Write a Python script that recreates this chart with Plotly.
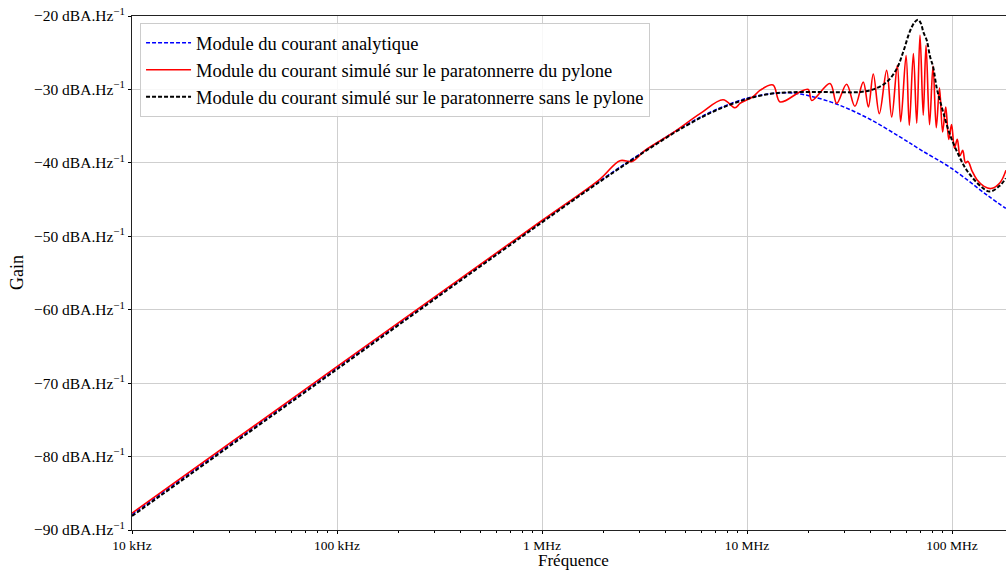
import plotly.graph_objects as go

# Frequencies in MHz, gains in dB
freq_analytique = [0.01, 0.1, 1, 2, 3, 5, 7, 10, 13, 16, 20, 28, 40, 56, 70, 100, 150, 183]
gain_analytique = [-87.9, -67.9, -47.95, -42.1, -38.8, -34.9, -32.8, -31.2, -30.6, -30.45,
                   -30.85, -32.1, -34.1, -36.5, -38.2, -40.8, -44.5, -46.2]

freq_pylone = [0.01, 0.1, 1, 1.92, 2.40, 2.75, 3.18, 4.3, 5.9, 7.64, 8.74, 9.25, 10.7, 11.6,
               13.4, 14.5, 18.1, 19.9, 20.7, 25.4, 27.4, 30.6, 33.6, 36.9, 39.1, 41.3, 44.2,
               48.0, 50.8, 54.1, 56.2, 59.7, 61.9, 64.8, 67.3, 69.8, 72.4, 74.7, 77.7, 80.8,
               83.8, 86.9, 90.0, 93.2, 96.4, 99.5, 102.8, 106.1, 109.4, 112.8, 116.3, 119.7,
               125.2, 132.4, 143.3, 155.0, 171.4, 183.4]
gain_pylone = [-87.7, -67.75, -47.85, -42.2, -39.7, -39.8, -38.3, -36.0, -33.3, -31.4, -32.5,
               -31.9, -31.0, -30.1, -29.4, -31.7, -30.35, -30.0, -31.5, -29.2, -31.9, -29.3,
               -32.3, -29.0, -32.4, -27.9, -33.3, -27.4, -33.75, -26.7, -34.4, -25.4, -34.9,
               -25.1, -34.6, -22.6, -33.5, -24.0, -34.8, -26.8, -35.2, -29.8, -35.8, -32.4,
               -36.8, -34.8, -38.0, -36.8, -39.0, -38.3, -40.0, -39.8, -41.1, -42.3, -43.2,
               -43.5, -42.7, -41.0]

freq_sans = [0.01, 0.1, 1, 2, 3, 5, 7, 10, 13, 16, 22, 30, 35.6, 41.3, 48.0, 53.7, 57.8, 62.1,
             65.5, 68.2, 70.5, 72.5, 75.3, 78.1, 81.0, 84.2, 87.5, 90.8, 97.8, 108, 118, 137,
             153, 171, 183]
gain_sans = [-88.1, -68.1, -48.1, -42.2, -38.9, -35.0, -32.9, -31.3, -30.6, -30.4, -30.35,
             -30.4, -30.35, -30.0, -29.0, -27.2, -24.9, -22.2, -20.9, -20.5, -21.0, -22.2,
             -23.3, -25.5, -27.0, -29.8, -31.6, -33.2, -36.2, -39.0, -41.0, -43.1, -43.9,
             -43.1, -42.1]

x_tick_vals = [1e4, 1e5, 1e6, 1e7, 1e8]
x_tick_text = ["10 kHz", "100 kHz", "1 MHz", "10 MHz", "100 MHz"]
y_tick_vals = [-20, -30, -40, -50, -60, -70, -80, -90]
y_tick_text = [f"\u2212{abs(v)} dBA.Hz<sup>\u22121</sup>" for v in y_tick_vals]

labels = ["Module du courant analytique",
          "Module du courant simulé sur le paratonnerre du pylone",
          "Module du courant simulé sur le paratonnerre sans le pylone"]

FONT = "Liberation Serif"


def hz(mhz_list):
    return [f * 1e6 for f in mhz_list]


fig = go.Figure()
fig.add_trace(go.Scatter(x=hz(freq_analytique), y=gain_analytique, mode="lines",
                         name=labels[0], legendgroup="a",
                         line=dict(color="#0000ff", width=1.5, dash="4px,2px", shape="spline")))
fig.add_trace(go.Scatter(x=hz(freq_pylone), y=gain_pylone, mode="lines",
                         name=labels[1], legendgroup="b",
                         line=dict(color="#ff0000", width=1.6, shape="spline")))
fig.add_trace(go.Scatter(x=hz(freq_sans), y=gain_sans, mode="lines",
                         name=labels[2], legendgroup="c",
                         line=dict(color="#000000", width=2, dash="4px,2px", shape="spline")))

minor_vals = [m * 10 ** e for e in range(4, 9) for m in range(2, 10) if m * 10 ** e < 1.9e8]

fig.update_layout(
    width=1006, height=571,
    margin=dict(l=132, r=0, t=16, b=41),
    paper_bgcolor="white", plot_bgcolor="white",
    font=dict(family=FONT, color="black"),
    showlegend=True,
    legend=dict(x=0.0092, y=0.986, xanchor="left", yanchor="top",
                bgcolor="rgba(255,255,255,0.85)", bordercolor="#cccccc", borderwidth=1,
                font=dict(family=FONT, size=18.5), traceorder="grouped", tracegroupgap=0,
                itemwidth=45),
    xaxis=dict(type="log", range=[4, 8.2634], tickmode="array",
               tickvals=x_tick_vals, ticktext=x_tick_text,
               tickfont=dict(family=FONT, size=13.5),
               showgrid=True, gridcolor="#cfcfcf", gridwidth=1,
               showline=True, linecolor="#222222", linewidth=1, mirror=True,
               ticks="outside", ticklen=3, tickcolor="black",
               minor=dict(tickmode="array", tickvals=minor_vals, ticks="outside",
                          ticklen=2, tickcolor="black", showgrid=False),
               zeroline=False),
    yaxis=dict(range=[-90, -20], tickmode="array",
               tickvals=y_tick_vals, ticktext=y_tick_text,
               tickfont=dict(family=FONT, size=15.5),
               showgrid=True, gridcolor="#cfcfcf", gridwidth=1,
               showline=True, linecolor="#222222", linewidth=1,
               ticks="outside", ticklen=3, tickcolor="black", zeroline=False),
    annotations=[
        dict(text="Fréquence", xref="paper", yref="paper", x=0.5057, y=0,
             yshift=-41, xanchor="center", yanchor="bottom", showarrow=False,
             font=dict(family=FONT, size=17), borderpad=0),
        dict(text="Gain", xref="paper", yref="paper", x=0, y=0.5, xshift=-115,
             textangle=-90, xanchor="center", yanchor="middle", showarrow=False,
             font=dict(family=FONT, size=18)),
    ],
)

fig.write_html("out.html")
